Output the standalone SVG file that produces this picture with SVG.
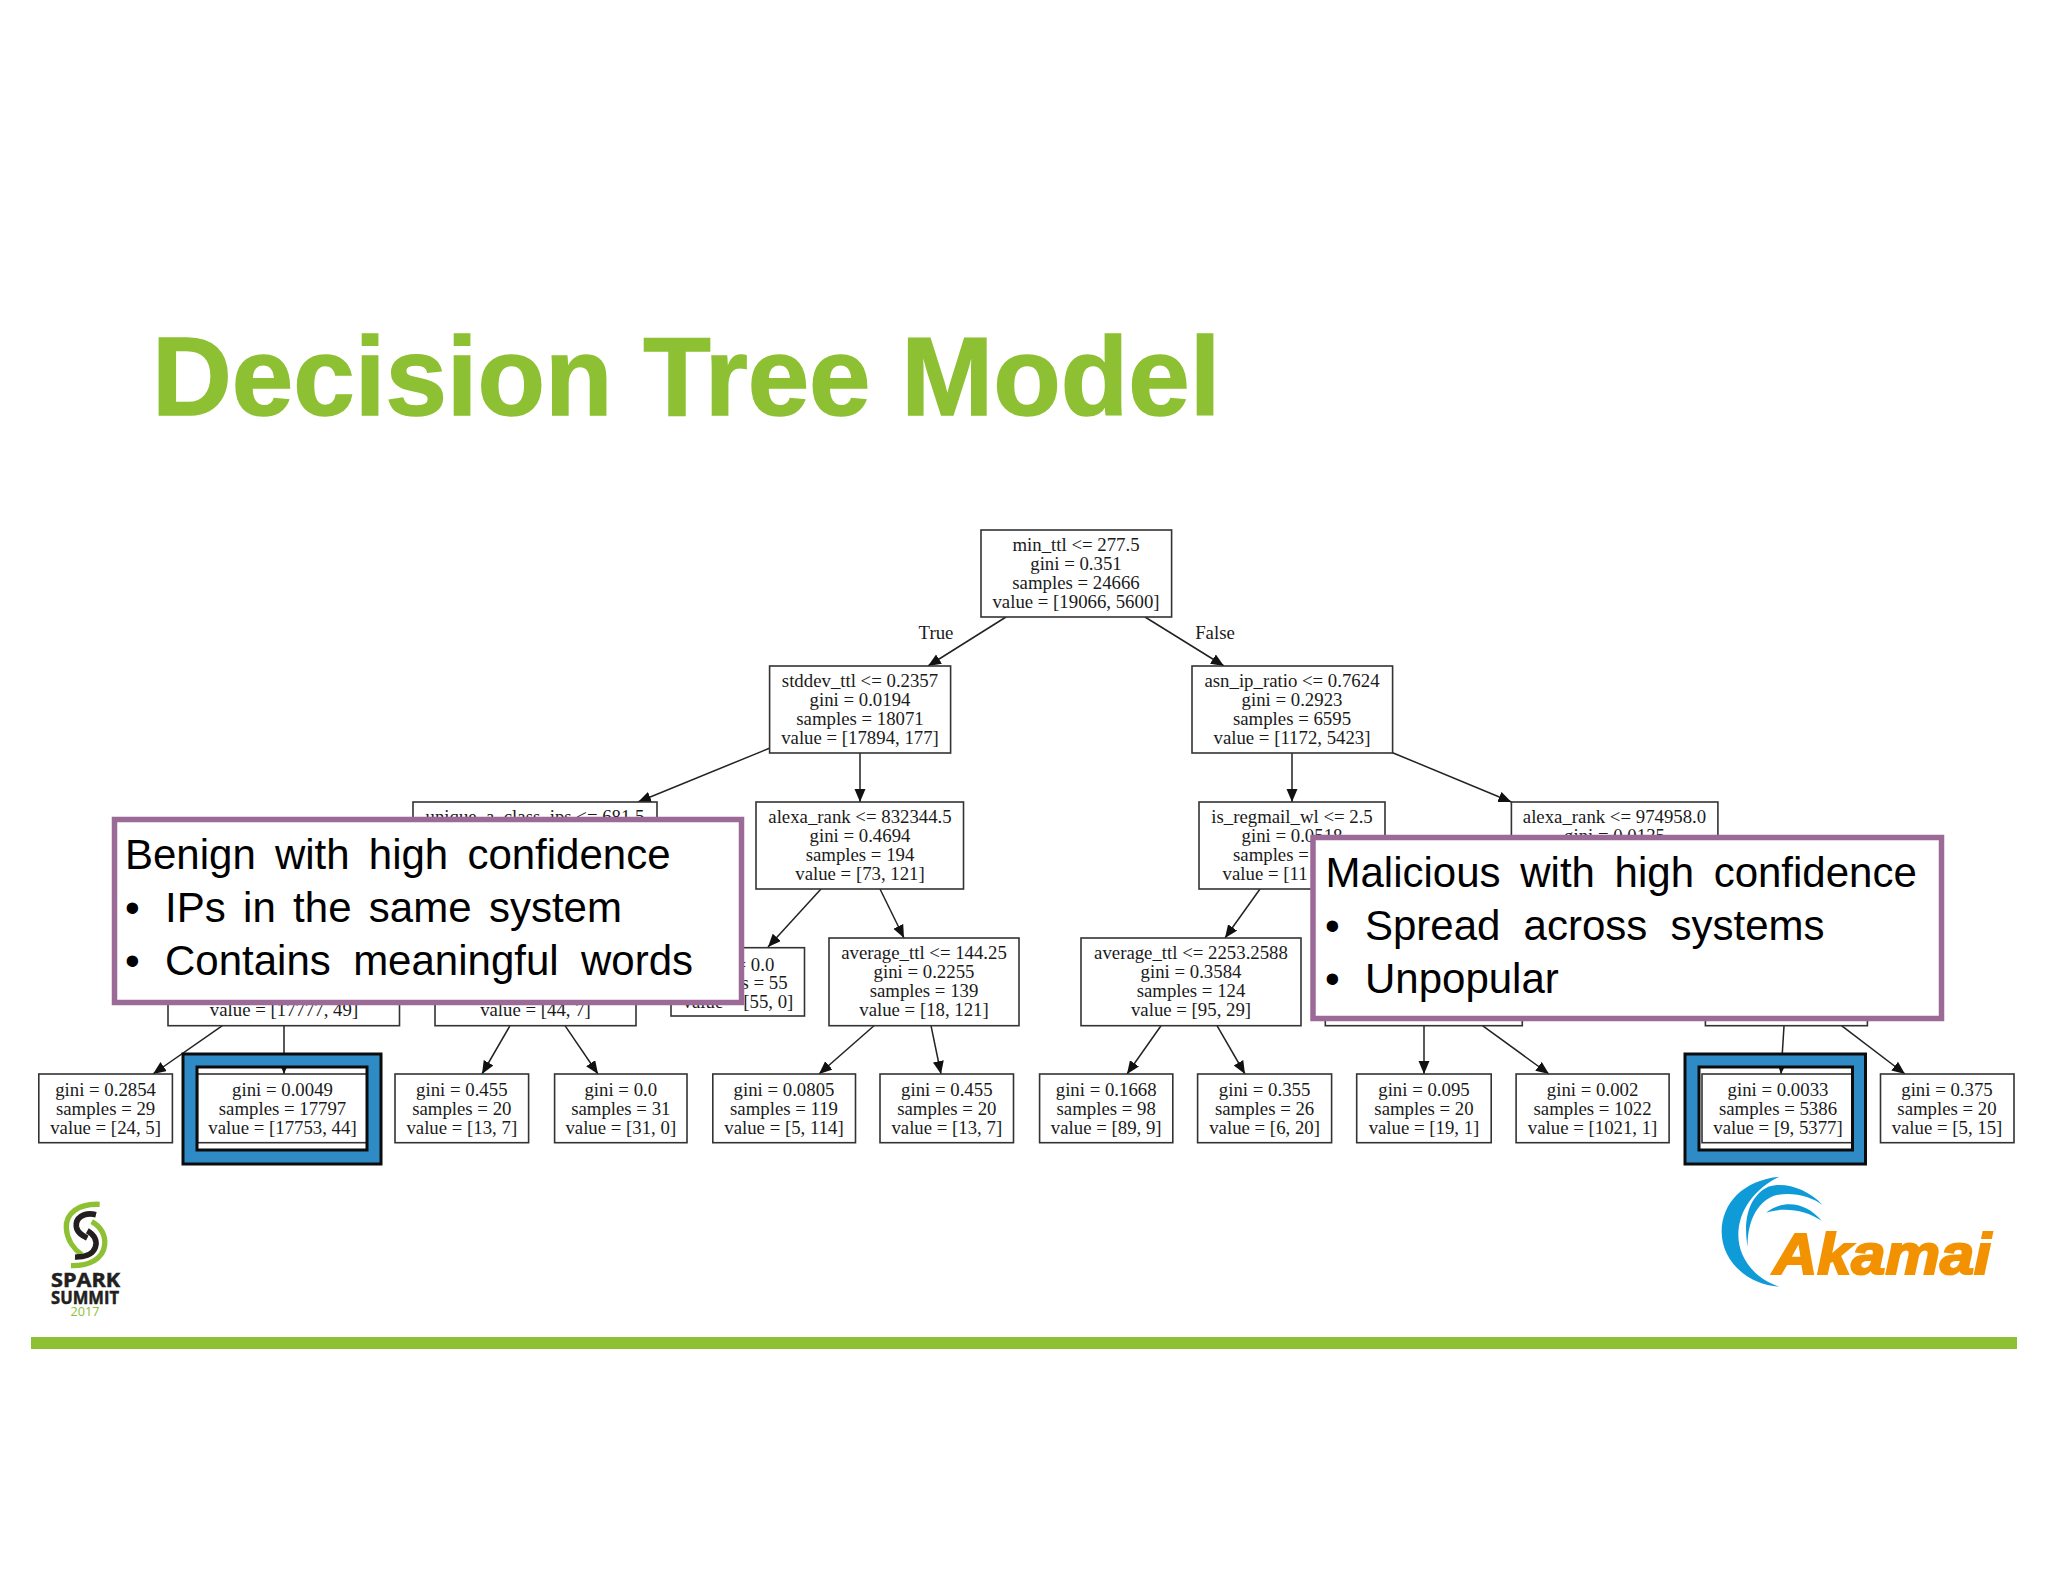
<svg xmlns="http://www.w3.org/2000/svg" width="2048" height="1582" viewBox="0 0 2048 1582">
<defs>
<marker id="ah" markerUnits="userSpaceOnUse" markerWidth="14" markerHeight="14" refX="13" refY="5.5" orient="auto"><path d="M0,0L13,5.5L0,11Z" fill="#111"/></marker>
</defs>
<style>
.n rect{fill:#fff;stroke:#333;stroke-width:1.6}
.n text{font-family:"Liberation Serif","Times New Roman",serif;font-size:18.8px;fill:#1a1a1a;text-anchor:middle}
.n text.s{text-anchor:start}
#connectors line{stroke:#222;stroke-width:1.5;marker-end:url(#ah)}
.lbl{font-family:"Liberation Serif","Times New Roman",serif;font-size:18.8px;fill:#1a1a1a;text-anchor:middle}
.frame{fill:#2E8BC6;fill-rule:evenodd;stroke:#0c0c0c;stroke-width:3}
.call rect{fill:#fff;stroke:#9B6A97;stroke-width:5.5}
.call text{font-family:"Liberation Sans",Arial,sans-serif;font-size:42px;fill:#000}
</style>
<rect width="2048" height="1582" fill="#fff"/>
<text id="title" x="152" y="415" font-family="'Liberation Sans',Arial,sans-serif" font-weight="700" font-size="110.5" fill="#8DC133" stroke="#8DC133" stroke-width="1.5">Decision Tree Model</text>

<g id="connectors">
<line x1="1006" y1="617" x2="928" y2="666"/>
<line x1="1145" y1="617" x2="1224" y2="666"/>
<line x1="770" y1="748" x2="638" y2="802"/>
<line x1="860" y1="753" x2="860" y2="802"/>
<line x1="1292" y1="753" x2="1292" y2="802"/>
<line x1="1392.6" y1="752.7" x2="1511.4" y2="802"/>
<line x1="821" y1="889" x2="768" y2="947"/>
<line x1="880" y1="889" x2="904" y2="938"/>
<line x1="1260" y1="889" x2="1225" y2="938"/>
<line x1="222.4" y1="1025.7" x2="153" y2="1074"/>
<line x1="284" y1="1025.7" x2="284" y2="1074"/>
<line x1="510" y1="1025.7" x2="482" y2="1074"/>
<line x1="565" y1="1025.7" x2="598" y2="1074"/>
<line x1="874" y1="1025.7" x2="819" y2="1074"/>
<line x1="931" y1="1025.7" x2="941" y2="1074"/>
<line x1="1161" y1="1025.7" x2="1127" y2="1074"/>
<line x1="1217" y1="1025.7" x2="1245" y2="1074"/>
<line x1="1424" y1="1025.7" x2="1424" y2="1074"/>
<line x1="1482.5" y1="1025.7" x2="1549" y2="1074"/>
<line x1="1784" y1="1025.7" x2="1781" y2="1074"/>
<line x1="1841.5" y1="1025.7" x2="1905" y2="1074"/>
</g>
<text class="lbl" x="936" y="638.5">True</text>
<text class="lbl" x="1215" y="638.5">False</text>

<g id="root" class="n"><rect x="981" y="530" width="190.6" height="87"/><text x="1076" y="550.7">min_ttl &lt;= 277.5</text><text x="1076" y="569.7">gini = 0.351</text><text x="1076" y="588.7">samples = 24666</text><text x="1076" y="607.7">value = [19066, 5600]</text></g>
<g id="n-stddev" class="n"><rect x="769.6" y="666" width="181" height="87"/><text x="860" y="686.7">stddev_ttl &lt;= 0.2357</text><text x="860" y="705.7">gini = 0.0194</text><text x="860" y="724.7">samples = 18071</text><text x="860" y="743.7">value = [17894, 177]</text></g>
<g id="n-asn" class="n"><rect x="1192" y="666" width="200.6" height="87"/><text x="1292" y="686.7">asn_ip_ratio &lt;= 0.7624</text><text x="1292" y="705.7">gini = 0.2923</text><text x="1292" y="724.7">samples = 6595</text><text x="1292" y="743.7">value = [1172, 5423]</text></g>
<g id="n-unique" class="n"><rect x="413" y="802" width="244" height="87"/><text x="535" y="822.7">unique_a_class_ips &lt;= 681.5</text></g>
<g id="n-alexa1" class="n"><rect x="756" y="802" width="207.5" height="87"/><text x="860" y="822.7">alexa_rank &lt;= 832344.5</text><text x="860" y="841.7">gini = 0.4694</text><text x="860" y="860.7">samples = 194</text><text x="860" y="879.7">value = [73, 121]</text></g>
<g id="n-regmail" class="n"><rect x="1199" y="802" width="186" height="87"/><text x="1292" y="822.7">is_regmail_wl &lt;= 2.5</text><text x="1292" y="841.7">gini = 0.0518</text><text class="s" x="1233" y="860.7">samples =</text><text class="s" x="1222.6" y="879.7">value = [11</text></g>
<g id="n-alexa2" class="n"><rect x="1511.4" y="802" width="206.5" height="87"/><text x="1614.5" y="822.7">alexa_rank &lt;= 974958.0</text><text x="1614.5" y="841.7">gini = 0.0135</text></g>
<g id="n-b1" class="n"><rect x="168" y="939" width="231.5" height="86.7"/><text x="284" y="1016">value = [17777, 49]</text></g>
<g id="n-b2" class="n"><rect x="435" y="939" width="201" height="86.7"/><text x="535.5" y="1016">value = [44, 7]</text></g>
<g id="n-leaf55" class="n"><rect x="671" y="947.7" width="133.5" height="68.3"/><text x="738" y="970.5">gini = 0.0</text><text x="738" y="989">samples = 55</text><text x="738" y="1008">value = [55, 0]</text></g>
<g id="n-avg1" class="n"><rect x="829" y="938" width="190" height="87.7"/><text x="924" y="958.7">average_ttl &lt;= 144.25</text><text x="924" y="977.7">gini = 0.2255</text><text x="924" y="996.7">samples = 139</text><text x="924" y="1015.7">value = [18, 121]</text></g>
<g id="n-avg2" class="n"><rect x="1081" y="938" width="220" height="87.7"/><text x="1191" y="958.7">average_ttl &lt;= 2253.2588</text><text x="1191" y="977.7">gini = 0.3584</text><text x="1191" y="996.7">samples = 124</text><text x="1191" y="1015.7">value = [95, 29]</text></g>
<g id="n-b3" class="n"><rect x="1325.3" y="938" width="197" height="87.7"/></g>
<g id="n-b4" class="n"><rect x="1705.4" y="938" width="162" height="87.7"/></g>

<g id="l1" class="n"><rect x="38.8" y="1074" width="133.6" height="68.7"/><text x="105.6" y="1096">gini = 0.2854</text><text x="105.6" y="1115">samples = 29</text><text x="105.6" y="1134">value = [24, 5]</text></g>
<g id="l2" class="n"><rect x="197.4" y="1074" width="169.6" height="68.7"/><text x="282.5" y="1096">gini = 0.0049</text><text x="282.5" y="1115">samples = 17797</text><text x="282.5" y="1134">value = [17753, 44]</text></g>
<g id="l3" class="n"><rect x="395" y="1074" width="133.6" height="68.7"/><text x="461.8" y="1096">gini = 0.455</text><text x="461.8" y="1115">samples = 20</text><text x="461.8" y="1134">value = [13, 7]</text></g>
<g id="l4" class="n"><rect x="554.6" y="1074" width="132.4" height="68.7"/><text x="620.8" y="1096">gini = 0.0</text><text x="620.8" y="1115">samples = 31</text><text x="620.8" y="1134">value = [31, 0]</text></g>
<g id="l5" class="n"><rect x="712.8" y="1074" width="142.7" height="68.7"/><text x="784" y="1096">gini = 0.0805</text><text x="784" y="1115">samples = 119</text><text x="784" y="1134">value = [5, 114]</text></g>
<g id="l6" class="n"><rect x="880" y="1074" width="133.5" height="68.7"/><text x="946.8" y="1096">gini = 0.455</text><text x="946.8" y="1115">samples = 20</text><text x="946.8" y="1134">value = [13, 7]</text></g>
<g id="l7" class="n"><rect x="1039.6" y="1074" width="133.2" height="68.7"/><text x="1106.2" y="1096">gini = 0.1668</text><text x="1106.2" y="1115">samples = 98</text><text x="1106.2" y="1134">value = [89, 9]</text></g>
<g id="l8" class="n"><rect x="1197.6" y="1074" width="134" height="68.7"/><text x="1264.6" y="1096">gini = 0.355</text><text x="1264.6" y="1115">samples = 26</text><text x="1264.6" y="1134">value = [6, 20]</text></g>
<g id="l9" class="n"><rect x="1356.7" y="1074" width="134.5" height="68.7"/><text x="1424" y="1096">gini = 0.095</text><text x="1424" y="1115">samples = 20</text><text x="1424" y="1134">value = [19, 1]</text></g>
<g id="l10" class="n"><rect x="1516.1" y="1074" width="153" height="68.7"/><text x="1592.6" y="1096">gini = 0.002</text><text x="1592.6" y="1115">samples = 1022</text><text x="1592.6" y="1134">value = [1021, 1]</text></g>
<g id="l11" class="n"><rect x="1702" y="1074" width="150" height="68.7"/><text x="1778" y="1096">gini = 0.0033</text><text x="1778" y="1115">samples = 5386</text><text x="1778" y="1134">value = [9, 5377]</text></g>
<g id="l12" class="n"><rect x="1880.5" y="1074" width="133.5" height="68.7"/><text x="1947" y="1096">gini = 0.375</text><text x="1947" y="1115">samples = 20</text><text x="1947" y="1134">value = [5, 15]</text></g>

<g id="highlight-benign"><path class="frame" d="M183,1054H381V1164H183ZM197,1067V1150H367V1067Z"/></g>
<g id="highlight-malicious"><path class="frame" d="M1685,1054H1865.5V1164H1685ZM1699,1067V1150H1852.5V1067Z"/></g>

<g id="callout-benign" class="call"><rect x="114.5" y="819.5" width="627" height="183"/>
<text x="125" y="869" word-spacing="7.5">Benign with high confidence</text>
<text x="125" y="921.5">•</text><text x="165" y="921.5" word-spacing="5.7">IPs in the same system</text>
<text x="125" y="975">•</text><text x="165" y="975" word-spacing="10.7">Contains meaningful words</text></g>
<g id="callout-malicious" class="call"><rect x="1313" y="837.5" width="628.5" height="181"/>
<text x="1325.5" y="887" word-spacing="8">Malicious with high confidence</text>
<text x="1325" y="939.5">•</text><text x="1365" y="939.5" word-spacing="11.5">Spread across systems</text>
<text x="1325" y="993">•</text><text x="1365" y="993">Unpopular</text></g>

<g id="logo-spark">
<g transform="translate(0,1170) scale(.3333)" fill="none" stroke-linecap="butt">
<path d="M299,103C235,100 196,130 199,175C201,212 225,240 246,255" stroke="#8DC133" stroke-width="16"/>
<path d="M275,155C304,170 317,198 314,225C309,267 268,288 213,287" stroke="#8DC133" stroke-width="16"/>
<path d="M288,134C250,125 226,145 229,170C232,190 250,198 262,204" stroke="#231F20" stroke-width="17"/>
<path d="M262,182C285,195 292,215 286,232C278,255 250,262 225,261" stroke="#231F20" stroke-width="17"/>
</g>
<text x="51" y="1287" font-family="'Open Sans','Liberation Sans',sans-serif" font-weight="700" font-size="19" fill="#231F20" stroke="#231F20" stroke-width=".5" textLength="69" lengthAdjust="spacingAndGlyphs">SPARK</text>
<text x="51" y="1303.5" font-family="'Open Sans','Liberation Sans',sans-serif" font-weight="700" font-size="18" fill="#231F20" stroke="#231F20" stroke-width=".5" textLength="68" lengthAdjust="spacingAndGlyphs">SUMMIT</text>
<text x="70.5" y="1316" font-family="'Open Sans','Liberation Sans',sans-serif" font-size="13.5" fill="#8DC133" textLength="29" lengthAdjust="spacingAndGlyphs">2017</text>
</g>

<g id="logo-akamai">
<g transform="translate(1690,1160) scale(.3333)" fill="#0E9BD8">
<path d="M268,50C160,60 95,130 95,215C95,300 170,375 268,380C190,355 145,290 145,225C145,150 195,85 268,50Z"/>
<path d="M398,135C350,85 285,65 235,80C190,100 155,160 173,260C172,180 205,120 260,105C310,95 365,110 398,135Z"/>
<path d="M395,182C350,130 285,115 228,158C285,140 345,150 395,182Z"/>
</g>
<text x="1773" y="1274" font-family="'Liberation Sans',Arial,sans-serif" font-weight="700" font-style="italic" font-size="58" fill="#F39200" stroke="#F39200" stroke-width="2.2" textLength="218" lengthAdjust="spacingAndGlyphs">Akamai</text>
</g>

<rect id="footer-bar" x="31" y="1337" width="1986" height="12" fill="#8DC133"/>
</svg>
